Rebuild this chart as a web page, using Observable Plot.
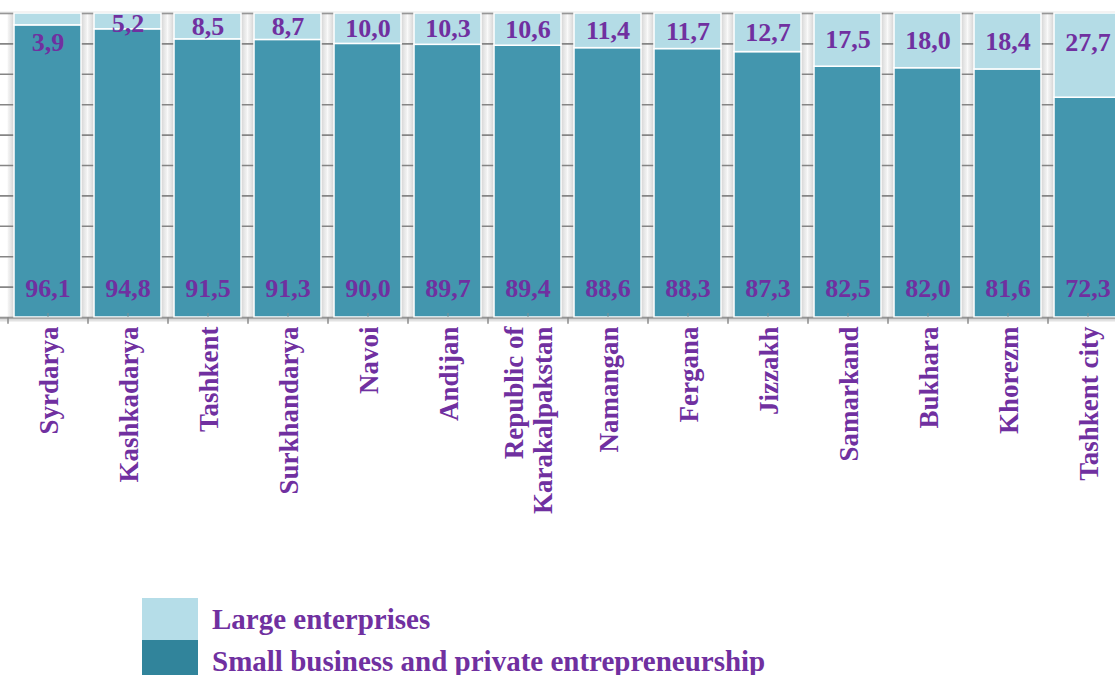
<!DOCTYPE html>
<html>
<head>
<meta charset="utf-8">
<script src="https://cdn.jsdelivr.net/npm/d3@7"></script>
<script src="https://cdn.jsdelivr.net/npm/@observablehq/plot@0.6"></script>
<style>
  html, body { margin: 0; padding: 0; background: #fff; }
  #legend { margin-top: 38px; margin-left: 142px; font-family: "Liberation Serif", serif; font-weight: bold; font-size: 29px; color: #7030A0; }
  .row { display: flex; align-items: center; height: 42px; }
  .sw { width: 56px; height: 42px; margin-right: 14px; }
</style>
</head>
<body>
<script>
const regions = ["Syrdarya","Kashkadarya","Tashkent","Surkhandarya","Navoi","Andijan","Republic of\nKarakalpakstan","Namangan","Fergana","Jizzakh","Samarkand","Bukhara","Khorezm","Tashkent city"];
const small = [96.1,94.8,91.5,91.3,90.0,89.7,89.4,88.6,88.3,87.3,82.5,82.0,81.6,72.3];
const large = [3.9,5.2,8.5,8.7,10.0,10.3,10.6,11.4,11.7,12.7,17.5,18.0,18.4,27.7];
const seriesNames = ["Small business and private entrepreneurship", "Large enterprises"];
const colors = ["#4396AE", "#B4DCE6"];
const legendColors = ["#31849B", "#B5DDE8"];
const gridTicks = d3.range(0, 101, 10);

const fmt = v => v.toFixed(1).replace(".", ",");
const rows = [];
regions.forEach((r, i) => {
  rows.push({region: r, series: seriesNames[0], y1: 0, y2: small[i], v: small[i]});
  rows.push({region: r, series: seriesNames[1], y1: small[i], y2: small[i] + large[i], v: large[i]});
});
const topLabelY = v => v < 5 ? 100 - 9.5 : 100 - Math.min(Math.max(v / 2, 3.5), 9.5);

const font = {fontFamily: "Liberation Serif", fontWeight: "bold", fill: "#7030A0"};

const chart = Plot.plot({
  width: 1115, height: 560,
  marginTop: 13, marginBottom: 243, marginLeft: 0, marginRight: 0,
  x: {domain: regions, range: [7.5, 1127.5], paddingInner: 0.16, paddingOuter: 0.08, axis: null},
  y: {domain: [0, 100], axis: null},
  color: {domain: seriesNames, range: colors},
  marks: [
    Plot.barY(regions, {x: d => d, y1: 0, y2: 100, fill: "url(#bandGrad)", insetLeft: -6.4, insetRight: -6.4}),
    Plot.ruleY(gridTicks, {stroke: "#858585", strokeWidth: 1.6}),
    Plot.ruleY([100], {stroke: "#cfcfcf", strokeWidth: 1.5, dy: -1}),
    Plot.barY(rows, {x: "region", y1: "y1", y2: "y2", fill: "series", stroke: "white", strokeWidth: 1.5}),
    Plot.ruleX(regions, {x: d => d, y1: 0, y2: 1.3, stroke: "#7f8f92", strokeWidth: 1}),
    Plot.ruleY([0], {stroke: "#a8a8a8", strokeWidth: 2, dy: 1}),
    Plot.ruleY([0], {stroke: "#e2e2e2", strokeWidth: 2, dy: 3}),
    Plot.ruleX(regions, {x: d => d, dx: -40, y1: 0, y2: -2.2, stroke: "#8a8a8a", strokeWidth: 1.5}),
    Plot.text(small, {x: (d, i) => regions[i], y: 9.5, text: d => fmt(d), fontSize: 26, ...font}),
    Plot.text(large, {x: (d, i) => regions[i], y: d => topLabelY(d), text: d => fmt(d), fontSize: 26, ...font}),
    Plot.text(regions, {x: d => d, y: 0, dy: 9, text: d => d, rotate: -90, textAnchor: "end", lineHeight: 1.1, fontSize: 27, ...font})
  ]
});

// gradient for band backgrounds
const defs = d3.select(chart).insert("defs", ":first-child");
const g = defs.append("linearGradient").attr("id", "bandGrad").attr("x1", "0").attr("x2", "1").attr("y1", "0").attr("y2", "0");
[[0, "#f6f6f6"], [0.04, "#e6e6e6"], [0.08, "#d2d2d2"], [0.92, "#d2d2d2"], [0.955, "#e4e4e4"], [1, "#f6f6f6"]]
  .forEach(([o, c]) => g.append("stop").attr("offset", o).attr("stop-color", c));

document.body.appendChild(chart);

const legend = document.createElement("div");
legend.id = "legend";
[1, 0].forEach(i => {
  const row = document.createElement("div");
  row.className = "row";
  const sw = document.createElement("div");
  sw.className = "sw";
  sw.style.background = legendColors[i];
  const t = document.createElement("span");
  t.textContent = seriesNames[i];
  row.appendChild(sw); row.appendChild(t);
  legend.appendChild(row);
});
document.body.appendChild(legend);
</script>
</body>
</html>
